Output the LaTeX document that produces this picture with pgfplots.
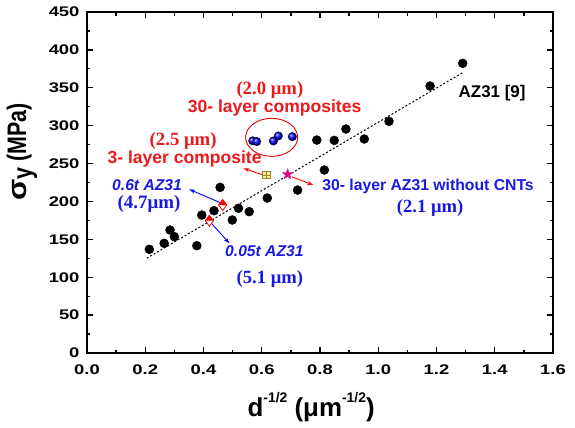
\documentclass[border=0pt]{standalone}
\usepackage{pgfplots}
\pgfplotsset{compat=1.18}
\usepackage{fontspec}
\setmainfont{Liberation Sans}
\newfontfamily\widefont{Liberation Sans}[FakeStretch=1.32]
\newfontfamily\serifb{Liberation Serif}
\usetikzlibrary{plotmarks,arrows.meta}
\definecolor{bluetxt}{RGB}{25,25,225}
\definecolor{redtxt}{RGB}{235,25,25}
\definecolor{olivebox}{RGB}{150,140,40}
\definecolor{yellowfill}{RGB}{245,235,150}
\pgfdeclareplotmark{fstar}{%
  \pgfpathmoveto{\pgfpointpolar{90}{\pgfplotmarksize}}%
  \pgfpathlineto{\pgfpointpolar{126}{0.42\pgfplotmarksize}}%
  \pgfpathlineto{\pgfpointpolar{162}{\pgfplotmarksize}}%
  \pgfpathlineto{\pgfpointpolar{198}{0.42\pgfplotmarksize}}%
  \pgfpathlineto{\pgfpointpolar{234}{\pgfplotmarksize}}%
  \pgfpathlineto{\pgfpointpolar{270}{0.42\pgfplotmarksize}}%
  \pgfpathlineto{\pgfpointpolar{306}{\pgfplotmarksize}}%
  \pgfpathlineto{\pgfpointpolar{342}{0.42\pgfplotmarksize}}%
  \pgfpathlineto{\pgfpointpolar{18}{\pgfplotmarksize}}%
  \pgfpathlineto{\pgfpointpolar{54}{0.42\pgfplotmarksize}}%
  \pgfpathclose
  \pgfusepathqfillstroke}
\newcommand{\sups}[1]{\raisebox{0.55em}{\fontsize{14}{14}\selectfont\bfseries #1}}
\begin{document}
\begin{tikzpicture}
\useasboundingbox (-87bp,-75bp) rectangle (488bp,353bp);
\begin{axis}[
  at={(0,0)}, anchor=south west,
  scale only axis, width=466bp, height=341bp,
  xmin=0, xmax=1.6, ymin=0, ymax=450,
  xtick={0,0.2,0.4,0.6,0.8,1.0,1.2,1.4,1.6},
  ytick={0,50,100,150,200,250,300,350,400,450},
  minor tick num=1,
  tick align=inside,
  major tick length=6bp, minor tick length=3.5bp,
  axis line style={line width=1.6bp},
  every tick/.style={black, line width=1.3bp},
  tick label style={font=\widefont\fontsize{14}{14}\selectfont\bfseries},
  /pgf/number format/assume math mode=true,
  xticklabel style={yshift=-8bp, /pgf/number format/.cd, fixed, fixed zerofill, precision=1},
  yticklabel style={xshift=-4bp, /pgf/number format/.cd, fixed, precision=0},
  xlabel={d\sups{-1/2} (μm\sups{-1/2})},
  ylabel={\scalebox{1}[1.25]{\scalebox{1.45}[1]{σ}\raisebox{-0.2em}{y} (MPa)}},
  xlabel style={font=\fontsize{26}{26}\selectfont\bfseries, at={(axis description cs:0.481,-0.158)}, anchor=center},
  ylabel style={font=\fontsize{21.5}{21.5}\selectfont\bfseries, at={(axis description cs:-0.1395,0.59)}, anchor=center},
  clip=false,
]
% fit line
\addplot[black, line width=1bp, dash pattern=on 2bp off 2bp] coordinates {(0.205,125) (1.29,370)};
% AZ31 data
\addplot[only marks, mark=*, mark size=4.5bp, black, mark options={fill=black}] coordinates {
(0.214,136.8) (0.265,144.7) (0.285,162.3) (0.300,153.5) (0.377,141.6)
(0.394,182.0) (0.436,187.8) (0.457,218.6) (0.499,175.5) (0.520,191.0)
(0.557,186.5) (0.619,204.5) (0.723,215.0) (0.815,241.5) (0.789,281.0)
(0.849,280.6) (0.889,295.6) (0.952,282.4) (1.037,305.7) (1.178,352.3)
(1.290,382.3)};
% 30-layer composites
\addplot[only marks, mark=ball, mark size=4.2bp, ball color=blue] coordinates {
(0.569,280.0) (0.583,279.0) (0.640,279.8) (0.657,286.4) (0.705,285.5)};
% 0.6t and 0.05t AZ31
\addplot[only marks, mark=halfdiamond*, mark size=5.5bp, draw=red, fill=white, mark options={mark color=red, line width=0.8bp}] coordinates {
(0.466,195.3) (0.420,174.6)};
% 3-layer composite
\addplot[only marks, mark=square*, mark size=3.8bp, draw=olivebox, fill=yellowfill, mark options={line width=0.8bp}] coordinates {(0.615,234.9)};
\addplot[only marks, mark=+, mark size=3.8bp, draw=olivebox, mark options={line width=0.8bp}] coordinates {(0.615,234.9)};
% 30-layer AZ31 without CNTs
\addplot[only marks, mark=fstar, mark size=5.5bp, draw=magenta!85!black, fill=magenta!90!blue] coordinates {(0.689,235.8)};

\draw[red!90!black, line width=0.9bp] (axis cs:0.634,284.6) ellipse [x radius=26bp, y radius=19bp];

\draw[-{Stealth[length=6bp,width=4bp]}, red, line width=0.9bp] (axis cs:0.605,234.9) -- (axis cs:0.537,243.7);
\draw[-{Stealth[length=6bp,width=4bp]}, red, line width=0.9bp] (axis cs:0.703,232.6) -- (axis cs:0.777,221.7);
\draw[-{Stealth[length=6bp,width=4bp]}, blue, line width=0.9bp] (axis cs:0.4625,197.5) -- (axis cs:0.351,216);
\draw[-{Stealth[length=6bp,width=4bp]}, blue, line width=0.9bp] (axis cs:0.422,173.3) -- (axis cs:0.489,144.8);

\begin{scope}[every node/.style={inner sep=0pt}]
\node[text=redtxt, font=\serifb\fontsize{18.8}{18.8}\selectfont\bfseries] at (axis cs:0.628,347) {(2.0 μm)};
\node[text=redtxt, font=\fontsize{17.6}{17.6}\selectfont\bfseries] at (axis cs:0.644,323.3) {30- layer composites};
\node[text=redtxt, font=\serifb\fontsize{18.8}{18.8}\selectfont\bfseries] at (axis cs:0.330,279.8) {(2.5 μm)};
\node[text=redtxt, font=\fontsize{17.6}{17.6}\selectfont\bfseries] at (axis cs:0.335,256) {3- layer composite};
\node[text=bluetxt, font=\fontsize{15.7}{15.7}\selectfont\bfseries\itshape] at (axis cs:0.206,221.5) {0.6t AZ31};
\node[text=bluetxt, font=\serifb\fontsize{19}{19}\selectfont\bfseries] at (axis cs:0.213,197) {(4.7μm)};
\node[text=bluetxt, font=\fontsize{15.7}{15.7}\selectfont\bfseries\itshape] at (axis cs:0.609,135) {0.05t AZ31};
\node[text=bluetxt, font=\serifb\fontsize{18.7}{18.7}\selectfont\bfseries] at (axis cs:0.628,97.7) {(5.1 μm)};
\node[text=bluetxt, font=\fontsize{15.8}{15.8}\selectfont\bfseries] at (axis cs:1.171,219.4) {30- layer AZ31 without CNTs};
\node[text=bluetxt, font=\serifb\fontsize{18.7}{18.7}\selectfont\bfseries] at (axis cs:1.178,191.3) {(2.1 μm)};
\node[text=black, font=\fontsize{17}{17}\selectfont\bfseries] at (axis cs:1.391,343) {AZ31 [9]};
\end{scope}
\end{axis}
\end{tikzpicture}
\end{document}
